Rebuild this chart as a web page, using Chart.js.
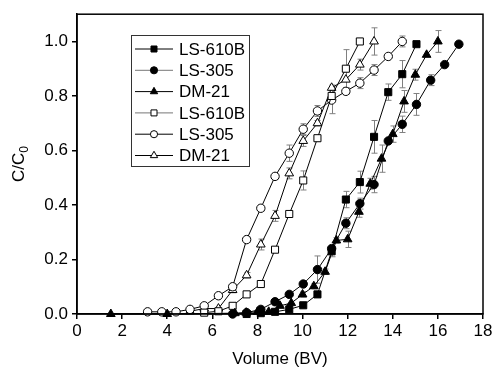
<!DOCTYPE html>
<html>
<head>
<meta charset="utf-8">
<script src="https://cdn.jsdelivr.net/npm/chart.js@4.4.0/dist/chart.umd.min.js"></script>
<style>
  html, body { margin: 0; padding: 0; background: #fff; }
</style>
</head>
<body>
<canvas id="chart" width="495" height="370"></canvas>
<script>
// Axis ticks
const xTicks = [0, 2, 4, 6, 8, 10, 12, 14, 16, 18];
const yTicks = [0, 0.2, 0.4, 0.6, 0.8, 1.0];

// Legend names
const seriesNames = ['LS-610B', 'LS-305', 'DM-21', 'LS-610B', 'LS-305', 'DM-21'];

// LS-610B (filled squares)
const sqFilledX = [7.52, 8.15, 8.78, 9.41, 10.03, 10.66, 11.29, 11.92, 12.54, 13.17, 13.8, 14.42, 15.05];
const sqFilledY = [0.0, 0.003, 0.008, 0.017, 0.032, 0.072, 0.23, 0.42, 0.484, 0.65, 0.814, 0.88, 0.99];
const sqFilledErr = [0, 0, 0, 0, 0, 0.01, 0.02, 0.03, 0.04, 0.06, 0.03, 0.05, 0];

// LS-305 (filled circles)
const cirFilledX = [6.9, 7.52, 8.15, 8.78, 9.41, 10.03, 10.66, 11.29, 11.92, 12.54, 13.17, 13.8, 14.42, 15.05, 15.68, 16.3, 16.93];
const cirFilledY = [0.0, 0.005, 0.017, 0.045, 0.072, 0.11, 0.163, 0.24, 0.333, 0.405, 0.475, 0.635, 0.696, 0.769, 0.858, 0.915, 0.99];
const cirFilledErr = [0, 0, 0, 0, 0, 0, 0.05, 0, 0.02, 0.02, 0.03, 0, 0.03, 0.04, 0.02, 0, 0];

// DM-21 (filled triangles)
const triFilledX = [1.5, 4.0, 7.0, 7.5, 8.0, 8.5, 9.0, 9.5, 10.0, 10.5, 11.0, 11.5, 12.0, 12.5, 13.0, 13.5, 14.0, 14.5, 15.0, 15.5, 16.0];
const triFilledY = [0.0, 0.0, 0.003, 0.005, 0.008, 0.008, 0.03, 0.04, 0.072, 0.102, 0.155, 0.27, 0.274, 0.375, 0.478, 0.57, 0.66, 0.78, 0.878, 0.951, 1.0];
const triFilledErr = [0, 0, 0, 0, 0, 0, 0, 0, 0.01, 0.01, 0.01, 0.01, 0.03, 0.02, 0.02, 0.05, 0.03, 0.04, 0.02, 0, 0.04];

// LS-610B (open squares)
const sqOpenX = [5.64, 6.27, 6.9, 7.52, 8.15, 8.78, 9.41, 10.03, 10.66, 11.29, 11.92, 12.54];
const sqOpenY = [0.005, 0.01, 0.03, 0.072, 0.11, 0.236, 0.367, 0.49, 0.645, 0.80, 0.90, 1.0];
const sqOpenErr = [0, 0, 0, 0, 0.01, 0.01, 0.01, 0.035, 0.01, 0.02, 0.07, 0];

// LS-305 (open circles)
const cirOpenX = [3.13, 3.76, 4.39, 5.01, 5.64, 6.27, 6.9, 7.52, 8.15, 8.78, 9.41, 10.03, 10.66, 11.29, 11.92, 12.54, 13.17, 13.8, 14.42];
const cirOpenY = [0.008, 0.008, 0.008, 0.017, 0.03, 0.067, 0.1, 0.273, 0.388, 0.505, 0.59, 0.678, 0.745, 0.785, 0.817, 0.847, 0.895, 0.945, 1.0];
const cirOpenErr = [0, 0, 0, 0, 0, 0.01, 0.01, 0.01, 0.01, 0.01, 0.03, 0.02, 0.02, 0.05, 0.01, 0.02, 0.02, 0, 0.02];

// DM-21 (open triangles)
const triOpenX = [5.01, 5.64, 6.27, 6.9, 7.52, 8.15, 8.78, 9.41, 10.03, 10.66, 11.29, 11.92, 12.54, 13.17];
const triOpenY = [0.01, 0.02, 0.02, 0.088, 0.142, 0.255, 0.36, 0.516, 0.635, 0.70, 0.83, 0.86, 0.915, 1.0];
const triOpenErr = [0, 0, 0, 0.01, 0.01, 0.02, 0.02, 0.02, 0.02, 0.01, 0.01, 0.03, 0.02, 0.05];

const FONT = '"Liberation Sans", Arial, sans-serif';
Chart.defaults.font.family = FONT;
Chart.defaults.font.size = 17;
Chart.defaults.color = '#000';

function makePoints(xs, ys) {
    return xs.map((x, i) => ({ x: x, y: ys[i] }));
}

// marker style per series: [pointStyle, radius, filled, legend line colour]
const looks = [
    ['rect', 5, true, '#000'],
    ['circle', 4.2, true, '#777'],
    ['triangle', 5, true, '#000'],
    ['rect', 5, false, '#777'],
    ['circle', 4.2, false, '#000'],
    ['triangle', 5, false, '#000']
];
const seriesData = [
    [sqFilledX, sqFilledY, sqFilledErr],
    [cirFilledX, cirFilledY, cirFilledErr],
    [triFilledX, triFilledY, triFilledErr],
    [sqOpenX, sqOpenY, sqOpenErr],
    [cirOpenX, cirOpenY, cirOpenErr],
    [triOpenX, triOpenY, triOpenErr]
];

const datasets = seriesData.map((s, i) => ({
    label: seriesNames[i],
    data: makePoints(s[0], s[1]),
    errors: s[2],
    showLine: true,
    tension: 0,
    borderColor: '#000',
    borderWidth: 1,
    pointStyle: looks[i][0],
    pointRadius: looks[i][1],
    pointBackgroundColor: looks[i][2] ? '#000' : '#fff',
    pointBorderColor: '#000',
    pointBorderWidth: 1,
    clip: false
}));

// error bars, drawn under the markers
const errorBars = {
    id: 'errorBars',
    beforeDatasetsDraw(chart) {
        const ctx = chart.ctx;
        const ys = chart.scales.y;
        ctx.save();
        ctx.strokeStyle = '#808080';
        ctx.lineWidth = 1;
        chart.data.datasets.forEach((ds, i) => {
            const meta = chart.getDatasetMeta(i);
            ds.errors.forEach((e, j) => {
                if (!e) return;
                const pt = meta.data[j];
                const v = ds.data[j].y;
                const top = ys.getPixelForValue(v + e);
                const bot = ys.getPixelForValue(v - e);
                const x = Math.round(pt.x) + 0.5;
                ctx.beginPath();
                ctx.moveTo(x, top); ctx.lineTo(x, bot);
                ctx.moveTo(x - 3, top); ctx.lineTo(x + 3, top);
                ctx.moveTo(x - 3, bot); ctx.lineTo(x + 3, bot);
                ctx.stroke();
            });
        });
        ctx.restore();
    }
};

function drawMarker(ctx, style, x, y, r, filled) {
    ctx.beginPath();
    if (style === 'rect') {
        const h = r * Math.SQRT1_2;
        ctx.rect(x - h, y - h, 2 * h, 2 * h);
    } else if (style === 'circle') {
        ctx.arc(x, y, r, 0, Math.PI * 2);
    } else {
        ctx.moveTo(x, y - r);
        ctx.lineTo(x + r * 0.866, y + r * 0.5);
        ctx.lineTo(x - r * 0.866, y + r * 0.5);
        ctx.closePath();
    }
    ctx.fillStyle = filled ? '#000' : '#fff';
    ctx.fill();
    ctx.strokeStyle = '#000';
    ctx.lineWidth = 1;
    ctx.stroke();
}

// frame, y title with subscript, legend box
const decorations = {
    id: 'decorations',
    afterDraw(chart) {
        const ctx = chart.ctx;
        const a = chart.chartArea;
        ctx.save();
        ctx.strokeStyle = '#000';
        ctx.lineWidth = 1.5;
        ctx.strokeRect(a.left, a.top, a.right - a.left, a.bottom - a.top);

        // y axis title C/C0
        ctx.fillStyle = '#000';
        ctx.translate(24, (a.top + a.bottom) / 2);
        ctx.rotate(-Math.PI / 2);
        ctx.font = '17px ' + FONT;
        ctx.textBaseline = 'alphabetic';
        const main = 'C/C';
        const w1 = ctx.measureText(main).width;
        ctx.font = '12px ' + FONT;
        const w2 = ctx.measureText('0').width;
        const start = -(w1 + w2) / 2;
        ctx.font = '17px ' + FONT;
        ctx.fillText(main, start, 0);
        ctx.font = '12px ' + FONT;
        ctx.fillText('0', start + w1, 4);
        ctx.restore();

        // legend
        ctx.save();
        ctx.strokeStyle = '#333';
        ctx.lineWidth = 1;
        ctx.strokeRect(131.5, 35.5, 118, 131);
        ctx.font = '17px ' + FONT;
        ctx.textBaseline = 'middle';
        ctx.fillStyle = '#000';
        seriesNames.forEach((name, i) => {
            const y = 49 + i * 21.3;
            ctx.strokeStyle = looks[i][3];
            ctx.lineWidth = 1;
            ctx.beginPath();
            ctx.moveTo(135, y); ctx.lineTo(173, y);
            ctx.stroke();
            drawMarker(ctx, looks[i][0], 154, y, looks[i][1] * 0.85, looks[i][2]);
            ctx.fillStyle = '#000';
            ctx.fillText(name, 179, y + 1);
        });
        ctx.restore();
    }
};

new Chart(document.getElementById('chart'), {
    type: 'line',
    data: { datasets: datasets },
    options: {
        responsive: false,
        animation: false,
        layout: { padding: { top: 13, right: 12, left: 0, bottom: 0 } },
        plugins: {
            legend: { display: false },
            tooltip: { enabled: false }
        },
        scales: {
            x: {
                type: 'linear',
                min: 0,
                max: 18,
                afterBuildTicks: (s) => { s.ticks = xTicks.map(v => ({ value: v })); },
                afterFit: (s) => { s.height = 56; },
                grid: { drawOnChartArea: false, drawTicks: true, tickLength: 5, color: '#000', lineWidth: 1.5 },
                border: { display: true, color: '#000', width: 1.5 },
                ticks: { padding: 2, maxRotation: 0, callback: (v) => String(v) },
                title: { display: true, text: 'Volume (BV)', padding: { top: 6, bottom: 0 } }
            },
            y: {
                type: 'linear',
                min: 0,
                max: 1.1,
                afterBuildTicks: (s) => { s.ticks = yTicks.map(v => ({ value: v })); },
                afterFit: (s) => { s.width = 77; },
                grid: { drawOnChartArea: false, drawTicks: true, tickLength: 5, color: '#000', lineWidth: 1.5 },
                border: { display: true, color: '#000', width: 1.5 },
                ticks: { padding: 4, callback: (v) => Number(v).toFixed(1) }
            }
        }
    },
    plugins: [errorBars, decorations]
});
</script>
</body>
</html>
